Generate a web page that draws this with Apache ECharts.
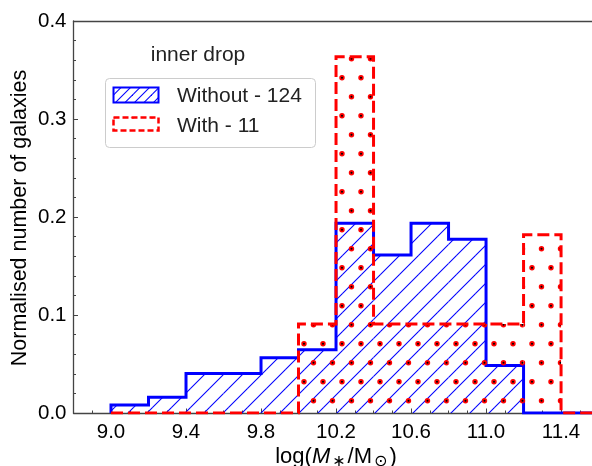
<!DOCTYPE html>
<html>
<head>
<meta charset="utf-8">
<script src="https://cdn.jsdelivr.net/npm/echarts@6/dist/echarts.min.js"></script>
<style>
html,body{margin:0;padding:0;background:#fff;}
#chart{width:592px;height:466px;}
</style>
</head>
<body>
<div id="chart"></div>
<script>
// ---- data ----
const binStarts = [9.0, 9.2, 9.4, 9.6, 9.8, 10.0, 10.2, 10.4, 10.6, 10.8, 11.0, 11.2, 11.4];
const binWidth = 0.2;
const withoutValues = [0.0081, 0.0161, 0.0403, 0.0403, 0.0565, 0.0645, 0.1935, 0.1613, 0.1935, 0.1774, 0.0484, 0, 0];
const withValues    = [0, 0, 0, 0, 0, 0.0909, 0.3636, 0.0909, 0.0909, 0.0909, 0.0909, 0.1818, 0];
const xTickLabels = [9.0, 9.4, 9.8, 10.2, 10.6, 11.0, 11.4];
const legendNames = ['Without - 124', 'With - 11'];
const legendTitle = 'inner drop';

const FONT = '"Liberation Sans", Arial, "DejaVu Sans", sans-serif';
const BLUE = '#0000ff';
const RED = '#ff0000';
const X_MIN = 8.8, X_MAX = 11.565;

// ---- patterns ----
function hatchCanvas(spacing) {
  const c = document.createElement('canvas');
  c.width = 19; c.height = 19;
  const ctx = c.getContext('2d');
  ctx.strokeStyle = BLUE;
  ctx.lineWidth = 1.1;
  for (let cc = 9 - 38; cc <= 9 + 57; cc += spacing) {
    ctx.beginPath();
    ctx.moveTo(-3, cc + 3);
    ctx.lineTo(22, cc - 22);
    ctx.stroke();
  }
  return c;
}
function dotCanvas() {
  const c = document.createElement('canvas');
  c.width = 19; c.height = 38;
  const ctx = c.getContext('2d');
  const bases = [[0, 1.7], [9.5, 20.7]];
  bases.forEach(b => {
    for (let dx = -19; dx <= 19; dx += 19) {
      for (let dy = -38; dy <= 38; dy += 38) {
        const x = b[0] + dx, y = b[1] + dy;
        ctx.fillStyle = RED;
        ctx.beginPath(); ctx.arc(x, y, 2.7, 0, Math.PI * 2); ctx.fill();
        ctx.fillStyle = '#000';
        ctx.beginPath(); ctx.arc(x, y, 1.0, 0, Math.PI * 2); ctx.fill();
      }
    }
  });
  return c;
}
const hatchPat = { image: hatchCanvas(19), repeat: 'repeat' };
const hatchPatLegend = { image: hatchCanvas(9.5), repeat: 'repeat' };
const dotPat = { image: dotCanvas(), repeat: 'repeat' };

function outline(vals) {
  const pts = [[binStarts[0], 0]];
  binStarts.forEach((s, i) => {
    pts.push([s, vals[i]]);
    pts.push([s + binWidth, vals[i]]);
  });
  pts.push([binStarts[binStarts.length - 1] + binWidth, 0]);
  return pts;
}
function fillSeries(vals, pat, z) {
  return {
    type: 'custom',
    silent: true,
    z: z,
    clip: true,
    xAxisIndex: 0, yAxisIndex: 0,
    data: binStarts.map((s, i) => [s, s + binWidth, vals[i]]),
    encode: { x: [0, 1], y: 2 },
    renderItem: function (params, api) {
      const p0 = api.coord([api.value(0), api.value(2)]);
      const p1 = api.coord([api.value(1), 0]);
      return {
        type: 'rect',
        shape: { x: p0[0], y: p0[1], width: p1[0] - p0[0], height: p1[1] - p0[1] },
        style: { fill: pat, stroke: null }
      };
    }
  };
}

const chart = echarts.init(document.getElementById('chart'), null, { renderer: 'canvas' });
const axisColor = '#444';
const option = {
  animation: false,
  backgroundColor: '#fff',
  grid: { left: 73.5, right: 0, top: 21, bottom: 53, containLabel: false },
  xAxis: [
    {
      type: 'value', min: X_MIN, max: X_MAX, interval: 0.1, position: 'bottom',
      axisLine: { show: true, onZero: false, lineStyle: { color: axisColor, width: 1.3 } },
      axisTick: { show: true, inside: true, length: 2.5, lineStyle: { color: axisColor, width: 1 } },
      axisLabel: {
        customValues: xTickLabels, margin: 9,
        fontSize: 20.5, color: '#000', fontFamily: FONT,
        formatter: v => Number(v).toFixed(1)
      },
      splitLine: { show: false }
    },
    {
      type: 'value', min: X_MIN, max: X_MAX, position: 'bottom',
      axisLine: { show: false },
      axisTick: { show: true, inside: true, length: 4.5, customValues: xTickLabels, lineStyle: { color: axisColor, width: 1 } },
      axisLabel: { show: false },
      splitLine: { show: false }
    },
    {
      type: 'value', min: X_MIN, max: X_MAX, position: 'top',
      axisLine: { show: true, onZero: false, lineStyle: { color: axisColor, width: 1.3 } },
      axisTick: { show: false },
      axisLabel: { show: false },
      splitLine: { show: false }
    }
  ],
  yAxis: {
    type: 'value', min: 0, max: 0.4, interval: 0.1,
    axisLine: { show: true, onZero: false, lineStyle: { color: axisColor, width: 1.3 } },
    axisTick: { show: true, inside: true, length: 4.5, lineStyle: { color: axisColor, width: 1 } },
    minorTick: { show: true, splitNumber: 5, length: 2.5, lineStyle: { color: axisColor, width: 1 } },
    axisLabel: { margin: 7, fontSize: 20.5, color: '#000', fontFamily: FONT, formatter: v => Number(v).toFixed(1) },
    splitLine: { show: false }
  },
  series: [
    fillSeries(withoutValues, hatchPat, 1),
    {
      type: 'line', name: legendNames[0], data: outline(withoutValues), symbol: 'none', z: 3, clip: true,
      lineStyle: { color: BLUE, width: 3, join: 'miter', cap: 'butt' }, silent: true
    },
    fillSeries(withValues, dotPat, 4),
    {
      type: 'line', name: legendNames[1], data: outline(withValues), symbol: 'none', z: 5, clip: true,
      lineStyle: { color: RED, width: 3, type: [12, 5], join: 'miter', cap: 'butt' }, silent: true
    }
  ],
  graphic: [
    { type: 'text', z: 100, x: 20, y: 218, rotation: Math.PI / 2,
      style: { text: 'Normalised number of galaxies', font: '21.5px ' + FONT, fill: '#000', align: 'center', verticalAlign: 'middle' } },
    { type: 'text', z: 100, x: 336, y: 457,
      style: {
        text: '{a|log(}{i|M}{s|∗}{a|/M}{s|⊙}{a|)}',
        align: 'center', verticalAlign: 'middle',
        rich: {
          a: { fontSize: 22, fontFamily: FONT, fill: '#000', color: '#000' },
          i: { fontSize: 22, fontFamily: FONT, fontStyle: 'italic', fill: '#000', color: '#000' },
          s: { fontSize: 16, fontFamily: FONT, fill: '#000', color: '#000', padding: [10, 2, 0, 2] }
        }
      } },
    { type: 'text', z: 100, x: 198, y: 55,
      style: { text: legendTitle, font: '21px ' + FONT, fill: '#222', align: 'center', verticalAlign: 'middle' } },
    { type: 'rect', z: 100, shape: { x: 105.5, y: 78.5, width: 210, height: 69, r: 4 },
      style: { fill: 'rgba(255,255,255,0.8)', stroke: '#cccccc', lineWidth: 1 } },
    { type: 'rect', z: 101, shape: { x: 113.5, y: 87.5, width: 45, height: 15 },
      style: { fill: hatchPatLegend, stroke: BLUE, lineWidth: 2 } },
    { type: 'rect', z: 101, shape: { x: 113.5, y: 117.5, width: 45, height: 13 },
      style: { fill: dotPat, stroke: RED, lineWidth: 2.5, lineDash: [6, 3] } },
    { type: 'text', z: 101, x: 177, y: 96,
      style: { text: legendNames[0], font: '21px ' + FONT, fill: '#222', align: 'left', verticalAlign: 'middle' } },
    { type: 'text', z: 101, x: 177, y: 126,
      style: { text: legendNames[1], font: '21px ' + FONT, fill: '#222', align: 'left', verticalAlign: 'middle' } }
  ]
};
chart.setOption(option);
</script>
</body>
</html>
